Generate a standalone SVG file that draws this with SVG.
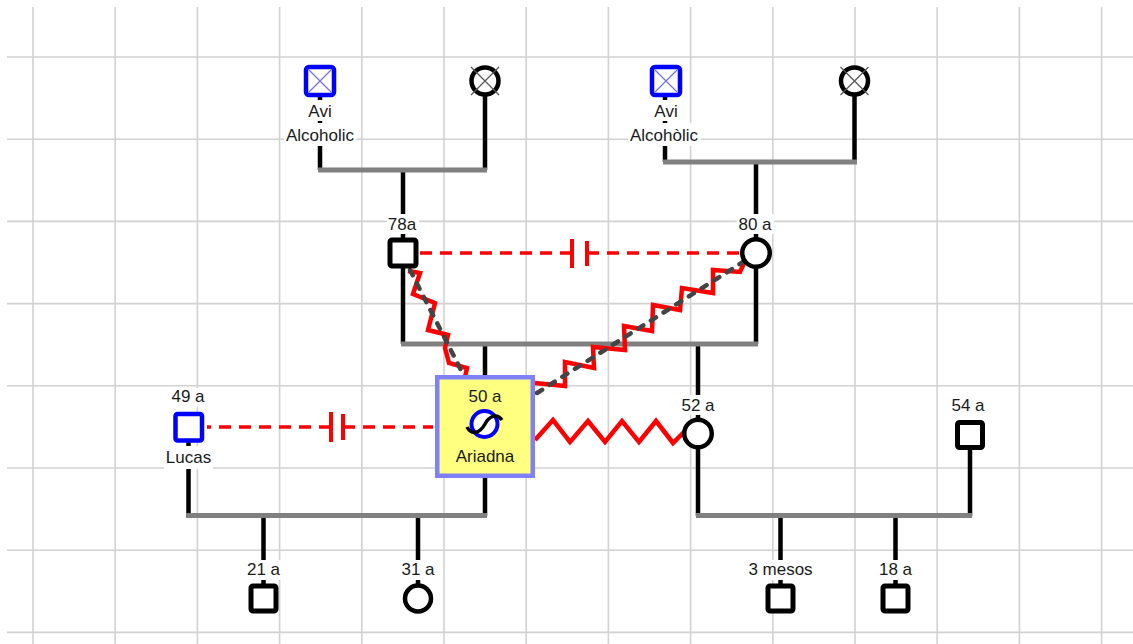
<svg xmlns="http://www.w3.org/2000/svg" width="1133" height="644" viewBox="0 0 1133 644">
<style>
.grid line{stroke:#d2d2d2;stroke-width:1.6}
.ln{stroke:#000;stroke-width:4.5;fill:none}
.bar{stroke:#808080;stroke-width:5;fill:none}
.dash{stroke:#ff0000;stroke-width:3.5;stroke-dasharray:12 8;fill:none}
.brk{stroke:#ff0000;stroke-width:4}
.zig{stroke:#ff0000;stroke-width:4.5;fill:none;stroke-linejoin:miter}
.gd{stroke:#444;stroke-width:4.5;stroke-dasharray:6 9;stroke-linecap:round;fill:none}
.lb{fill:#fff}
text{font-family:"Liberation Sans",Arial,sans-serif;font-size:17px;fill:#1a1a1a;text-anchor:middle}
.sq{fill:#fff;stroke:#000;stroke-width:5}
.ci{fill:#fff;stroke:#000;stroke-width:4.5}
.bsq{fill:#fff;stroke:#0000ff;stroke-width:4.5}
.x{stroke:#7070ff;stroke-width:1.2}
.xg{stroke:#555;stroke-width:1.2}
</style>
<rect width="1133" height="644" fill="#fff"/>
<g class="grid">
<line x1="33" y1="7" x2="33" y2="644"/>
<line x1="115.2" y1="7" x2="115.2" y2="644"/>
<line x1="197.4" y1="7" x2="197.4" y2="644"/>
<line x1="279.6" y1="7" x2="279.6" y2="644"/>
<line x1="361.8" y1="7" x2="361.8" y2="644"/>
<line x1="444" y1="7" x2="444" y2="644"/>
<line x1="526.2" y1="7" x2="526.2" y2="644"/>
<line x1="608.4" y1="7" x2="608.4" y2="644"/>
<line x1="690.6" y1="7" x2="690.6" y2="644"/>
<line x1="772.8" y1="7" x2="772.8" y2="644"/>
<line x1="855" y1="7" x2="855" y2="644"/>
<line x1="937.2" y1="7" x2="937.2" y2="644"/>
<line x1="1019.4" y1="7" x2="1019.4" y2="644"/>
<line x1="1101.6" y1="7" x2="1101.6" y2="644"/>
<line x1="7" y1="57" x2="1133" y2="57"/>
<line x1="7" y1="139.2" x2="1133" y2="139.2"/>
<line x1="7" y1="221.4" x2="1133" y2="221.4"/>
<line x1="7" y1="303.6" x2="1133" y2="303.6"/>
<line x1="7" y1="385.8" x2="1133" y2="385.8"/>
<line x1="7" y1="468" x2="1133" y2="468"/>
<line x1="7" y1="550.2" x2="1133" y2="550.2"/>
<line x1="7" y1="632.4" x2="1133" y2="632.4"/>
</g>
<g id="connectors">
<path class="ln" d="M320,95V170 M485,81V170 M403,170V344 M665,95V162 M854.5,81V162 M756,162V344 M485,344V380 M698,344V516 M188.5,427V516 M485,470V516 M970,435V516 M263.5,516V598 M418,516V598 M780.5,516V598 M895.5,516V598"/>
<path class="bar" d="M318,170H487 M663,162H857 M401,344H758 M186,515.5H487 M696,515.5H972"/>
<path class="dash" d="M572,253H420 M587,253H742 M331,427H207 M343,427H433"/>
<path class="brk" d="M572,239V268 M587,241V266 M331,412V442 M343,414V440"/>
<polyline class="zig" points="408,271 420,273 413,294 435,303 428,330 448,335 445,348 449,363 467,368 465,377"/>
<polyline class="zig" points="535,383 565,386 565,362 594,368 593,347 625,350 624,326 652,331 653,305 680,310 682,288 713,293 713,270 740,272 745,261"/>
<polyline class="zig" points="535,440 553,420 570,442 588,421 605,442 622,421 639,442 656,421 673,443 684,432"/>
<path class="gd" d="M410,270L462,372 M537,393L743,262"/>
</g>
<g id="aviL">
<rect class="lb" x="306" y="100" width="28" height="21"/>
<text x="320" y="117">Avi</text>
<rect class="lb" x="284" y="123" width="72" height="23"/>
<text x="320" y="141">Alcoholic</text>
<rect class="bsq" x="306" y="67" width="28" height="28" rx="3"/>
<path class="x" d="M309,70L331,92M331,70L309,92"/>
</g>
<g id="aviaL">
<circle class="ci" cx="485" cy="81" r="13.5"/>
<path class="xg" d="M471,67L499,95M499,67L471,95"/>
</g>
<g id="aviR">
<rect class="lb" x="652" y="100" width="28" height="21"/>
<text x="666" y="117">Avi</text>
<rect class="lb" x="628" y="123" width="73" height="23"/>
<text x="664" y="141">Alcohòlic</text>
<rect class="bsq" x="652" y="67" width="28" height="28" rx="3"/>
<path class="x" d="M655,70L677,92M677,70L655,92"/>
</g>
<g id="aviaR">
<circle class="ci" cx="854.5" cy="81" r="13.5"/>
<path class="xg" d="M840.5,67L868.5,95M868.5,67L840.5,95"/>
</g>
<g id="n78a">
<rect class="lb" x="387" y="214" width="32" height="20"/>
<text x="402" y="230">78a</text>
<rect class="sq" x="390" y="240" width="26" height="26" rx="2"/>
</g>
<g id="n80a">
<rect class="lb" x="737" y="214" width="37" height="20"/>
<text x="755" y="230">80 a</text>
<circle class="ci" cx="756" cy="253" r="13.75"/>
</g>
<g id="lucas">
<rect class="lb" x="170" y="388" width="37" height="19"/>
<text x="188" y="402">49 a</text>
<rect class="lb" x="164" y="446" width="49" height="23"/>
<text x="188.5" y="463">Lucas</text>
<rect class="bsq" x="175.5" y="414" width="26.5" height="26.5" rx="2"/>
</g>
<g id="ariadna">
<rect x="437.25" y="377.25" width="95.5" height="98.5" fill="#ffff80" stroke="#8080ff" stroke-width="4.5"/>
<text x="485" y="402">50 a</text>
<circle cx="484.5" cy="424" r="13" fill="#fff" stroke="#0000ff" stroke-width="4"/>
<path d="M467,427C472,436 480,433 485,424C489,416 497,413 502,420" stroke="#000" stroke-width="3.5" fill="none"/>
<text x="485" y="462">Ariadna</text>
</g>
<g id="n52a">
<rect class="lb" x="680" y="395" width="37" height="20"/>
<text x="698" y="411">52 a</text>
<circle class="ci" cx="698" cy="433.5" r="13.75"/>
</g>
<g id="n54a">
<rect class="lb" x="950" y="395" width="37" height="20"/>
<text x="968" y="411">54 a</text>
<rect class="sq" x="957.5" y="422.5" width="25" height="25" rx="2"/>
</g>
<g id="n21a">
<rect class="lb" x="245" y="560" width="37" height="20"/>
<text x="263.5" y="575">21 a</text>
<rect class="sq" x="251" y="586" width="25" height="25" rx="2"/>
</g>
<g id="n31a">
<rect class="lb" x="400" y="560" width="37" height="20"/>
<text x="418" y="575">31 a</text>
<circle class="ci" cx="418" cy="598.5" r="13"/>
</g>
<g id="n3m">
<rect class="lb" x="746" y="560" width="69" height="20"/>
<text x="780.5" y="575">3 mesos</text>
<rect class="sq" x="768" y="586" width="25" height="25" rx="2"/>
</g>
<g id="n18a">
<rect class="lb" x="877" y="560" width="37" height="20"/>
<text x="895.5" y="575">18 a</text>
<rect class="sq" x="883" y="586" width="25" height="25" rx="2"/>
</g>
</svg>
